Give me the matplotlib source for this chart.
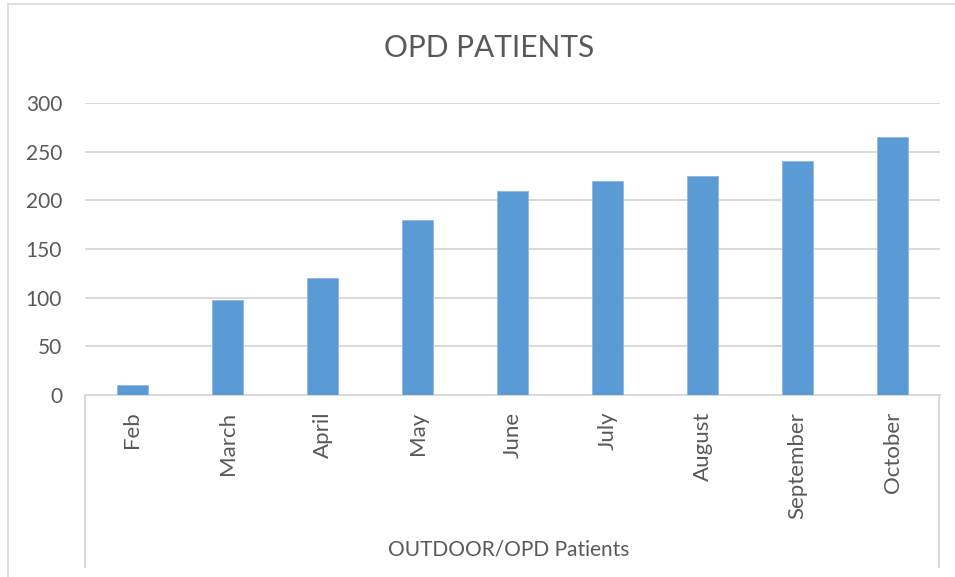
import matplotlib
matplotlib.use("Agg")
import matplotlib.pyplot as plt
from matplotlib.lines import Line2D

months = ["Feb", "March", "April", "May", "June", "July", "August", "September", "October"]
patients = [10, 98, 120, 180, 210, 220, 225, 240, 265]
yticks = [0, 50, 100, 150, 200, 250, 300]
title = "OPD PATIENTS"
xlabel = "OUTDOOR/OPD Patients"

plt.rcParams['font.family'] = ['Lato', 'DejaVu Sans']
txt = "#595959"
grid = "#D9D9D9"
bar_color = "#5B9BD5"

W, H = 955, 577
fig = plt.figure(figsize=(W / 100, H / 100), dpi=100)
ax = fig.add_axes([85 / W, 1 - 395 / H, (940 - 85) / W, (395 - 103) / H])

x = list(range(len(months)))
ax.bar(x, patients, width=0.32, color=bar_color, edgecolor="#8DB7E3", linewidth=0.6, zorder=3)

ax.set_xlim(-0.5, len(months) - 0.5)
ax.set_ylim(0, 300)
ax.set_yticks(yticks)
ax.set_yticklabels([str(v) for v in yticks], fontsize=15, color=txt)
ax.set_xticks(x)
ax.set_xticklabels(months, rotation=90, fontsize=16, color=txt, va="top", ha="center")
ax.tick_params(axis="both", length=0)
ax.tick_params(axis="y", pad=16.5)
ax.tick_params(axis="x", pad=12)
ax.yaxis.grid(True, color=grid, linewidth=1.4, zorder=0)
ax.set_axisbelow(True)
for s in ["top", "right", "left"]:
    ax.spines[s].set_visible(False)
ax.spines["bottom"].set_color(grid)
ax.spines["bottom"].set_linewidth(1.4)

# category-axis frame lines below the plot
for xp in (85, 939):
    fig.add_artist(Line2D([xp / W, xp / W], [1 - 395 / H, 1 - 567 / H], color=grid, linewidth=1.4))

fig.text(509 / W, 1 - 550 / H, xlabel, ha="center", va="center", fontsize=15, color=txt)
fig.text(489 / W, 1 - 48 / H, title, ha="center", va="center", fontsize=21.5, color=txt)

# chart-area border
fig.add_artist(Line2D([8 / W, 1], [1 - 4 / H, 1 - 4 / H], color=grid, linewidth=1.2))
fig.add_artist(Line2D([8 / W, 8 / W], [1 - 4 / H, 0], color=grid, linewidth=1.2))

fig.savefig("out.png", dpi=100, facecolor="white")
